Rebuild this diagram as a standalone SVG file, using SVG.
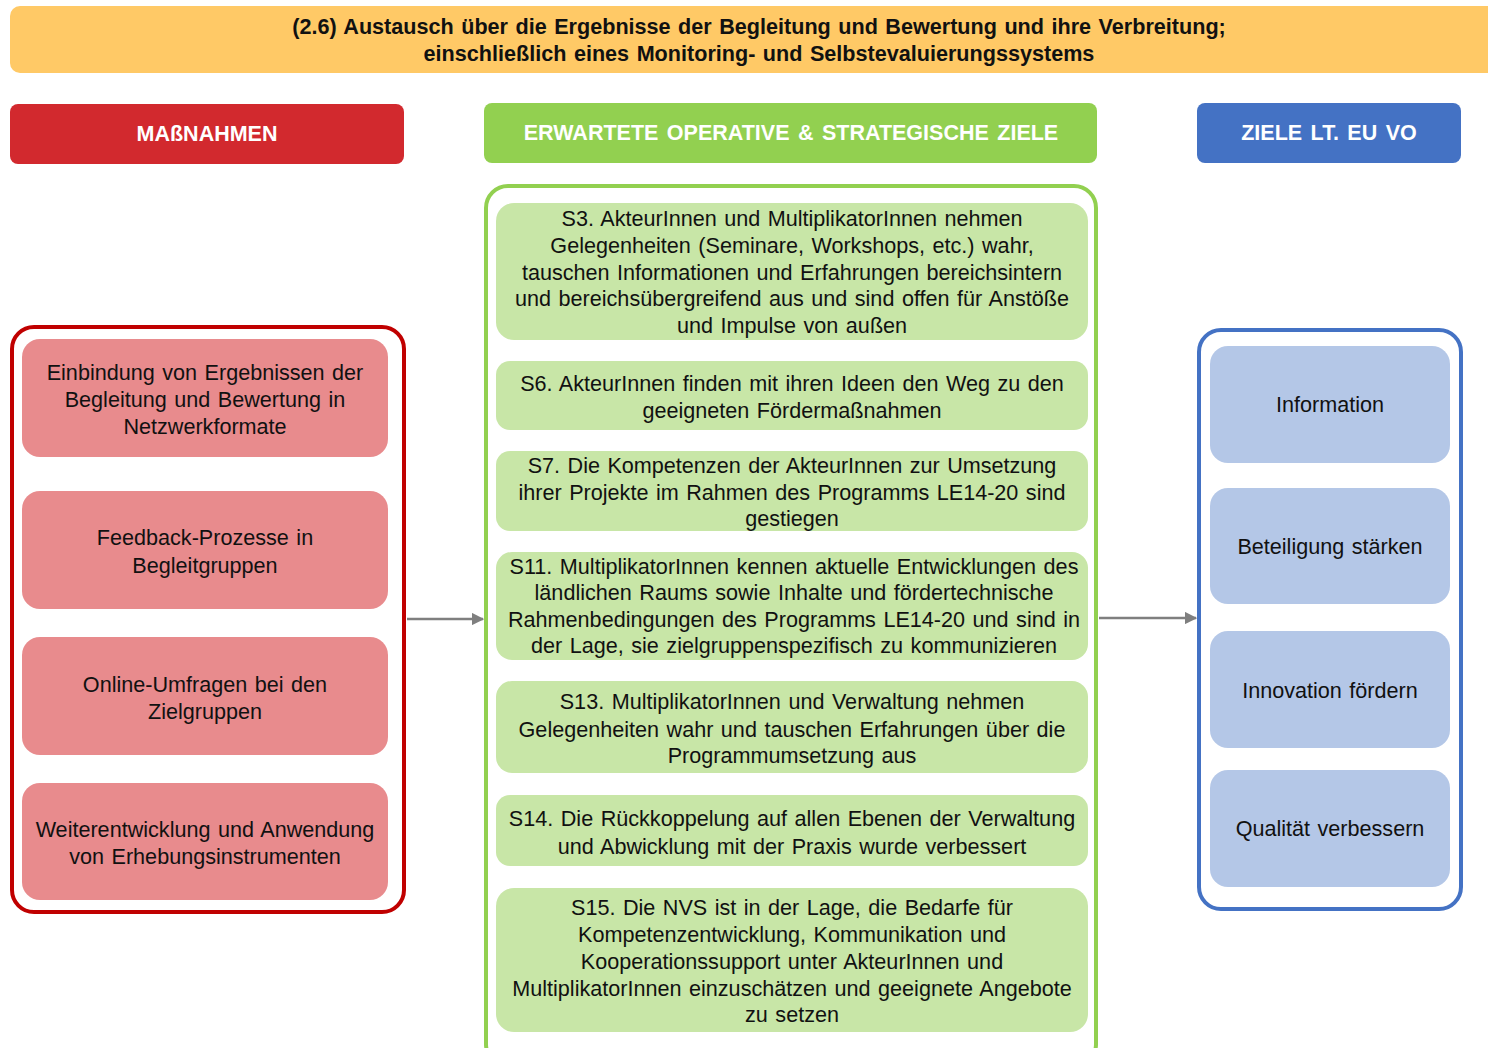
<svg xmlns="http://www.w3.org/2000/svg" width="1488" height="1048" viewBox="0 0 1488 1048">
  <defs>
    <style>
      .t { font-family: "Liberation Sans", Arial, sans-serif; font-size: 21.6px; word-spacing: 1.5px; fill: #111; text-anchor: middle; }
      .title { font-family: "Liberation Sans", Arial, sans-serif; font-size: 21.6px; word-spacing: 1.5px; font-weight: bold; fill: #111; text-anchor: middle; }
      .hd { font-family: "Liberation Sans", Arial, sans-serif; font-size: 21.5px; word-spacing: 2.5px; font-weight: bold; fill: #fff; text-anchor: middle; }
      .red-node { fill: #E88B8D; }
      .green-node { fill: #C8E6A7; }
      .blue-node { fill: #B4C7E7; }
      .conn { stroke: #7F7F7F; stroke-width: 2.5; fill: none; }
    </style>
    <marker id="arrow" viewBox="0 0 10 10" refX="9" refY="5" markerWidth="5" markerHeight="5" orient="auto" markerUnits="strokeWidth">
      <path d="M0,0 L10,5 L0,10 z" fill="#7F7F7F"/>
    </marker>
  </defs>

  <!-- Title band -->
  <g id="title">
    <rect x="10" y="6" width="1490" height="67" rx="10" fill="#FFC966"/>
    <text class="title" x="759" y="34">(2.6) Austausch über die Ergebnisse der Begleitung und Bewertung und ihre Verbreitung;</text>
    <text class="title" x="759" y="61">einschließlich eines Monitoring- und Selbstevaluierungssystems</text>
  </g>

  <!-- Column headers -->
  <g id="header-massnahmen">
    <rect x="10" y="104" width="394" height="60" rx="8" fill="#D2292E"/>
    <text class="hd" x="207" y="141">MAßNAHMEN</text>
  </g>
  <g id="header-ziele">
    <rect x="484" y="103" width="613" height="60" rx="8" fill="#92D050"/>
    <text class="hd" x="791" y="140">ERWARTETE OPERATIVE &amp; STRATEGISCHE ZIELE</text>
  </g>
  <g id="header-eu">
    <rect x="1197" y="103" width="264" height="60" rx="8" fill="#4472C4"/>
    <text class="hd" x="1329" y="140">ZIELE LT. EU VO</text>
  </g>

  <!-- Containers -->
  <g id="container-massnahmen">
    <rect x="12" y="327" width="392" height="585" rx="22" fill="none" stroke="#C00000" stroke-width="4"/>
  </g>
  <g id="container-ziele">
    <rect x="486" y="186" width="610" height="880" rx="22" fill="none" stroke="#92D050" stroke-width="4"/>
  </g>
  <g id="container-eu">
    <rect x="1199" y="330" width="262" height="579" rx="22" fill="none" stroke="#4472C4" stroke-width="4"/>
  </g>

  <!-- Maßnahmen -->
  <g id="m1">
    <rect class="red-node" x="22" y="339" width="366" height="118" rx="18"/>
    <text class="t" x="205" y="380">Einbindung von Ergebnissen der</text>
    <text class="t" x="205" y="407">Begleitung und Bewertung in</text>
    <text class="t" x="205" y="434">Netzwerkformate</text>
  </g>
  <g id="m2">
    <rect class="red-node" x="22" y="491" width="366" height="118" rx="18"/>
    <text class="t" x="205" y="545">Feedback-Prozesse in</text>
    <text class="t" x="205" y="573">Begleitgruppen</text>
  </g>
  <g id="m3">
    <rect class="red-node" x="22" y="637" width="366" height="118" rx="18"/>
    <text class="t" x="205" y="692">Online-Umfragen bei den</text>
    <text class="t" x="205" y="719">Zielgruppen</text>
  </g>
  <g id="m4">
    <rect class="red-node" x="22" y="783" width="366" height="117" rx="18"/>
    <text class="t" x="205" y="837">Weiterentwicklung und Anwendung</text>
    <text class="t" x="205" y="864">von Erhebungsinstrumenten</text>
  </g>

  <!-- Operative & strategische Ziele -->
  <g id="s3">
    <rect class="green-node" x="496" y="203" width="592" height="137" rx="18"/>
    <text class="t" x="792" y="226">S3. AkteurInnen und MultiplikatorInnen nehmen</text>
    <text class="t" x="792" y="253">Gelegenheiten (Seminare, Workshops, etc.) wahr,</text>
    <text class="t" x="792" y="280">tauschen Informationen und Erfahrungen bereichsintern</text>
    <text class="t" x="792" y="306">und bereichsübergreifend aus und sind offen für Anstöße</text>
    <text class="t" x="792" y="333">und Impulse von außen</text>
  </g>
  <g id="s6">
    <rect class="green-node" x="496" y="361" width="592" height="69" rx="14"/>
    <text class="t" x="792" y="391">S6. AkteurInnen finden mit ihren Ideen den Weg zu den</text>
    <text class="t" x="792" y="418">geeigneten Fördermaßnahmen</text>
  </g>
  <g id="s7">
    <rect class="green-node" x="496" y="451" width="592" height="80" rx="14"/>
    <text class="t" x="792" y="473">S7. Die Kompetenzen der AkteurInnen zur Umsetzung</text>
    <text class="t" x="792" y="500">ihrer Projekte im Rahmen des Programms LE14-20 sind</text>
    <text class="t" x="792" y="526">gestiegen</text>
  </g>
  <g id="s11">
    <rect class="green-node" x="496" y="552" width="592" height="108" rx="16"/>
    <text class="t" x="794" y="574">S11. MultiplikatorInnen kennen aktuelle Entwicklungen des</text>
    <text class="t" x="794" y="600">ländlichen Raums sowie Inhalte und fördertechnische</text>
    <text class="t" x="794" y="627">Rahmenbedingungen des Programms LE14-20 und sind in</text>
    <text class="t" x="794" y="653">der Lage, sie zielgruppenspezifisch zu kommunizieren</text>
  </g>
  <g id="s13">
    <rect class="green-node" x="496" y="681" width="592" height="92" rx="16"/>
    <text class="t" x="792" y="709">S13. MultiplikatorInnen und Verwaltung nehmen</text>
    <text class="t" x="792" y="737">Gelegenheiten wahr und tauschen Erfahrungen über die</text>
    <text class="t" x="792" y="763">Programmumsetzung aus</text>
  </g>
  <g id="s14">
    <rect class="green-node" x="496" y="795" width="592" height="71" rx="14"/>
    <text class="t" x="792" y="826">S14. Die Rückkoppelung auf allen Ebenen der Verwaltung</text>
    <text class="t" x="792" y="854">und Abwicklung mit der Praxis wurde verbessert</text>
  </g>
  <g id="s15">
    <rect class="green-node" x="496" y="888" width="592" height="144" rx="18"/>
    <text class="t" x="792" y="915">S15. Die NVS ist in der Lage, die Bedarfe für</text>
    <text class="t" x="792" y="942">Kompetenzentwicklung, Kommunikation und</text>
    <text class="t" x="792" y="969">Kooperationssupport unter AkteurInnen und</text>
    <text class="t" x="792" y="996">MultiplikatorInnen einzuschätzen und geeignete Angebote</text>
    <text class="t" x="792" y="1022">zu setzen</text>
  </g>

  <!-- Ziele lt. EU VO -->
  <g id="e1">
    <rect class="blue-node" x="1210" y="346" width="240" height="117" rx="18"/>
    <text class="t" x="1330" y="412">Information</text>
  </g>
  <g id="e2">
    <rect class="blue-node" x="1210" y="488" width="240" height="116" rx="18"/>
    <text class="t" x="1330" y="554">Beteiligung stärken</text>
  </g>
  <g id="e3">
    <rect class="blue-node" x="1210" y="631" width="240" height="117" rx="18"/>
    <text class="t" x="1330" y="698">Innovation fördern</text>
  </g>
  <g id="e4">
    <rect class="blue-node" x="1210" y="770" width="240" height="117" rx="18"/>
    <text class="t" x="1330" y="836">Qualität verbessern</text>
  </g>

  <!-- Connectors -->
  <g id="connectors">
    <line class="conn" x1="407" y1="619" x2="483" y2="619" marker-end="url(#arrow)"/>
    <line class="conn" x1="1099" y1="618" x2="1196" y2="618" marker-end="url(#arrow)"/>
  </g>
</svg>
